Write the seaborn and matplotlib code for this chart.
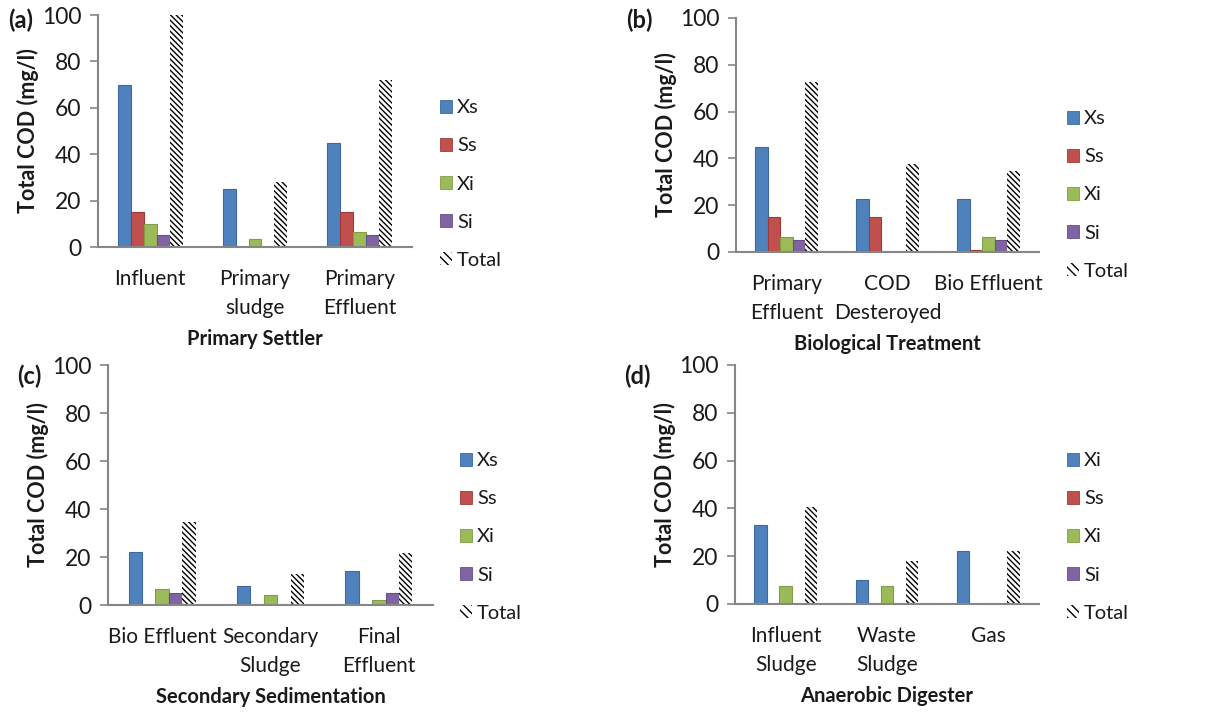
import matplotlib
matplotlib.use("Agg")
import matplotlib.pyplot as plt
from matplotlib.patches import Patch
import seaborn as sns
import pandas as pd

sns.set_theme(style="white")
plt.rcParams["font.family"] = ["Lato", "DejaVu Sans"]
plt.rcParams["hatch.linewidth"] = 1.0

# Component series order and colours
components = ["Xs", "Ss", "Xi", "Si", "Total"]
colors = {"Xs": "#4F81BD", "Ss": "#C0504D", "Xi": "#9BBB59", "Si": "#8064A2", "Total": "#FFFFFF"}
edges = {"Xs": "#3A6A9F", "Ss": "#A03A38", "Xi": "#7F9E45", "Si": "#65508A", "Total": "none"}

# (a) Primary Settler
stages_a = ["Influent", "Primary\nsludge", "Primary\nEffluent"]
xs_a = [70, 25, 45]
ss_a = [15, 0, 15]
xi_a = [10, 3.5, 6.5]
si_a = [5, 0, 5]
total_a = [100, 28, 72]

# (b) Biological Treatment
stages_b = ["Primary\nEffluent", "COD\nDesteroyed", "Bio Effluent"]
xs_b = [45, 22.5, 22.5]
ss_b = [15, 15, 1]
xi_b = [6.5, 0, 6.5]
si_b = [5, 0, 5]
total_b = [72.5, 37.5, 34.5]

# (c) Secondary Sedimentation
stages_c = ["Bio Effluent", "Secondary\nSludge", "Final\nEffluent"]
xs_c = [22.2, 8, 14]
ss_c = [0, 0, 0]
xi_c = [6.5, 4.2, 2]
si_c = [5, 0, 5]
total_c = [34.5, 12.8, 21.8]

# (d) Anaerobic Digester
stages_d = ["Influent\nSludge", "Waste\nSludge", "Gas"]
xs_d = [33, 10, 22]
ss_d = [0, 0, 0]
xi_d = [7.6, 7.6, 0]
si_d = [0, 0, 0]
total_d = [40.6, 17.8, 22]

legend_a = ["Xs", "Ss", "Xi", "Si", "Total"]
legend_d = ["Xi", "Ss", "Xi", "Si", "Total"]

HATCH = "\\" * 6

panels = [
    dict(tag="(a)", title="Primary Settler", stages=stages_a,
         series=[xs_a, ss_a, xi_a, si_a, total_a], labels=legend_a,
         box=(98, 15, 412, 247), leg=(440, 184), tagpos=(8, 20)),
    dict(tag="(b)", title="Biological Treatment", stages=stages_b,
         series=[xs_b, ss_b, xi_b, si_b, total_b], labels=legend_a,
         box=(736, 18, 1039, 252), leg=(1067, 195), tagpos=(626, 20)),
    dict(tag="(c)", title="Secondary Sedimentation", stages=stages_c,
         series=[xs_c, ss_c, xi_c, si_c, total_c], labels=legend_a,
         box=(108, 365, 433, 605), leg=(460, 537), tagpos=(17, 376)),
    dict(tag="(d)", title="Anaerobic Digester", stages=stages_d,
         series=[xs_d, ss_d, xi_d, si_d, total_d], labels=legend_d,
         box=(735, 365, 1039, 604), leg=(1067, 537), tagpos=(624, 376)),
]

W, H = 1225, 713
fig = plt.figure(figsize=(W / 100, H / 100), dpi=100)
text_col = "#1a1a1a"
axis_col = "#868686"

for p in panels:
    x0, y0, x1, y1 = p["box"]
    ax = fig.add_axes([x0 / W, 1 - y1 / H, (x1 - x0) / W, (y1 - y0) / H])
    rows = []
    for comp, vals in zip(components, p["series"]):
        for st, v in zip(p["stages"], vals):
            rows.append({"stage": st, "component": comp, "value": v})
    df = pd.DataFrame(rows)
    sns.barplot(data=df, x="stage", y="value", hue="component",
                hue_order=components, order=p["stages"], palette=colors,
                width=0.62, gap=0, legend=False, ax=ax, saturation=1)
    for comp, cont in zip(components, ax.containers):
        for bar in cont.patches:
            if comp == "Total":
                bar.set_facecolor("white")
                bar.set_edgecolor("black")
                bar.set_hatch(HATCH)
                bar.set_linewidth(0)
            else:
                bar.set_edgecolor(edges[comp])
                bar.set_linewidth(0.8)

    ax.set_ylim(0, 100)
    ax.set_xlim(-0.5, 2.5)
    ax.set_yticks([0, 20, 40, 60, 80, 100])
    ax.tick_params(axis="y", which="major", left=True, length=6, width=1.2,
                   color=axis_col, labelsize=16.5, labelcolor=text_col, pad=6)
    ax.tick_params(axis="x", bottom=False, labelsize=15, labelcolor=text_col, pad=10)
    for lab in ax.get_xticklabels():
        lab.set_verticalalignment("top")
        lab.set_linespacing(1.55)
    for s in ["top", "right"]:
        ax.spines[s].set_visible(False)
    for s in ["left", "bottom"]:
        ax.spines[s].set_color(axis_col)
        ax.spines[s].set_linewidth(1.5)
    ax.set_xlabel(p["title"], fontsize=14.5, fontweight="bold", color=text_col, labelpad=8)
    ax.set_ylabel("Total COD (mg/l)", fontsize=15.5, fontweight="bold", color=text_col, labelpad=2)

    handles = []
    for comp in components:
        if comp == "Total":
            handles.append(Patch(facecolor="white", edgecolor="black", hatch="\\" * 4, linewidth=0))
        else:
            handles.append(Patch(facecolor=colors[comp], edgecolor=edges[comp], linewidth=0.6))
    lx, ly = p["leg"]
    ax.legend(handles, p["labels"], loc="center left",
              bbox_to_anchor=((lx - x0) / (x1 - x0), (y1 - ly) / (y1 - y0)),
              frameon=False, fontsize=14.5, labelspacing=1.05, handlelength=0.6,
              handleheight=0.6, handletextpad=0.25, borderpad=0, borderaxespad=0,
              labelcolor=text_col)

    tx, ty = p["tagpos"]
    fig.text(tx / W, 1 - ty / H, p["tag"], fontsize=17, fontweight="bold",
             color=text_col, ha="left", va="center")

fig.savefig("out.png", dpi=100, facecolor="white")
